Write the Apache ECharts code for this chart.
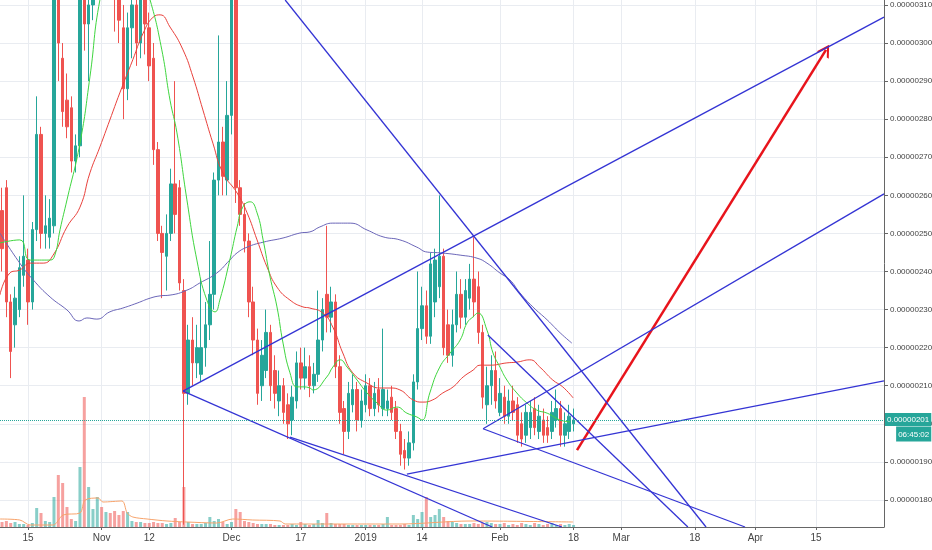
<!DOCTYPE html>
<html><head><meta charset="utf-8">
<script src="https://cdn.jsdelivr.net/npm/echarts@6/dist/echarts.min.js"></script>
<style>html,body{margin:0;padding:0;background:#fff}#c{width:932px;height:550px}</style>
</head><body><div id="c"></div>
<script>
// x = days since 2018-10-01 ; prices in units of 1e-8
const X_TICK_DAYS = [14, 31, 42, 61, 77, 92, 105, 123, 140, 151, 168, 182, 196];
const X_TICK_LABELS = ['15', 'Nov', '12', 'Dec', '17', '2019', '14', 'Feb', '18', 'Mar', '18', 'Apr', '15'];
const Y_TICKS = [180, 190, 200, 210, 220, 230, 240, 250, 260, 270, 280, 290, 300, 310];

const FIRST_DAY = 8; // 2018-10-09, daily candles
const opens = [256,262,232,226,230,239,243,232,251,276,250,249,252,312,296,285,283,269,273,315,305,310,320,326,322,328,318,312,304,288,304,310,300,312,304,296,272,250,244,250,263,262,235,208,222,216,213,220,226,234,264,274,264,281,318,262,255,248,232,222,210,214,224,214,206,210,205,201,206,216,212,215,210,213,222,234,228,232,215,204,198,205,209,201,205,210,204,209,204,204,207,204,198,193,191,195,211,225,231,223,232,236,244,226,218,226,234,228,233,238,236,224,205,210,214,203,207,202,206,205,200,197,199,204,198,201,199,198,201,204,197,198,200];
const closes = [246,232,219,233,241,244,232,251,276,250,252,254,312,300,282,278,269,273,315,305,310,320,326,322,328,318,312,306,288,304,310,300,312,305,294,272,250,245,250,263,255,237,208,222,216,220,220,226,234,264,274,265,281,318,262,255,248,232,222,208,218,224,210,208,210,203,200,207,216,212,215,210,213,222,230,228,232,215,203,198,208,209,201,206,210,204,208,205,209,206,203,198,192,191,195,211,225,231,223,242,243,244,220,218,226,234,228,235,238,232,224,207,210,214,206,208,202,206,203,197,196,203,203,199,202,197,197,203,204,197,200,202,201];
const lows = [240,228,212,220,228,236,226,230,248,246,246,246,250,290,278,275,266,266,270,298,290,306,316,316,318,312,303,300,280,285,296,294,296,297,290,268,248,233,235,248,250,235,173.5,205,210,212,211,215,222,230,260,260,260,276,258,252,245,228,218,205,206,212,206,204,202,200,196,197,204,209,209,207,208,211,219,224,224,212,200,192,196,203,198,199,203,202,202,203,202,202,201,196,189,188,189,193,209,222,221,221,228,233,218,216,215,224,225,226,230,228,221,204,200,205,204,202,200,200,201,195,194,195,196,197,196,195,195,196,199,194,194,196,198];
const highs = [262,264,234,236,244,260,246,253,286,278,260,259,318,325,300,292,286,276,322,322,318,330,334,332,336,332,324,318,310,308,316,314,318,318,308,300,274,252,255,267,290,264,238,226,228,226,238,232,248,266,302,278,290,330,325,264,258,250,236,225,222,230,226,218,214,212,208,210,219,220,220,218,216,235,233,252,236,234,218,206,211,213,211,209,213,212,211,212,225,209,210,206,200,196,198,213,240,236,235,245,246,260,246,230,230,240,238,238,242,249,240,226,215,218,219,212,210,209,210,207,203,205,206,207,205,204,202,206,209,206,203,205,204];
const volumes = [2.5,3,2,2.5,1.5,1.5,1,2,9.5,7,3,2.5,15,26,22,10,4,3,30,65,20,9,15,10,7.5,7,8,6,8,7.5,3,2.5,2.5,2,2,2.5,2,2,1.5,2,4.5,2.5,20,2.5,1.5,1.5,1.5,2,5,3,4,2.5,1.5,2.5,9,7.5,3,2.5,2,1.5,1.5,1.5,1.5,1,1,1,1,1.5,1,2.5,1.5,1,1.5,3.5,2,7,2,1.5,1.5,1.5,1,1,1,1,1,1,1,1,1.5,5,1,1,1,1.5,1,6,4,7.5,15,5,6,9,5,3,2.5,2,1.5,1.5,1.5,2,1.5,2,2.5,2,1.5,1.5,2,1,1.5,1,2,1.5,1,2,1.5,1,1.5,2,1,1.5,1,1.5,1];

const maFast = [[7.5,247.5],[12.1,248.3],[14.5,243.0],[19.1,243.0],[20.2,244.3],[21.4,251],[23.0,258.8],[26.0,273.7],[28.3,291.1],[30.6,311.3],[33,320],[36.5,323],[40,318],[42.2,311.3],[44.9,298.2],[46.8,285.0],[48.4,276.4],[50.7,258.8],[53.0,243.0],[55.3,232.5],[57.2,229.4],[58.3,232.5],[60.6,243.0],[62.3,251.7],[63.6,256.9],[65.3,258.3],[66.9,255.4],[68.3,248.3],[69.9,238.6],[71.5,230.7],[72.9,221.2],[74.5,213.4],[76.1,209.7],[77.5,209.7],[79.1,209.4],[79.8,208.9],[83.0,212.3],[84.4,214.9],[86.1,216.8],[87.7,214.9],[90.0,211.5],[92.3,208.1],[94.6,205.5],[96.9,203.6],[99.2,204.4],[101.5,202.8],[103.8,201.8],[105.0,201.0],[106.8,208.1],[109.1,214.9],[111.5,218.6],[113.8,222.0],[115.4,226.5],[116.8,228.1],[117.9,229.1],[120.0,224.6],[121.4,218.6],[123.0,214.9],[124.6,211.5],[126.9,208.1],[129.2,205.5],[131.5,203.6],[133.9,202.8],[136.9,201.0],[139.2,200.5]];
const maMid = [[7.5,233.8],[9.8,239.6],[12.1,240.4],[14.5,242.2],[17.5,242.2],[19.8,244.3],[23.0,251.7],[26.0,256.9],[28.3,265.9],[30.6,272.7],[32.9,279.8],[35.2,286.9],[38.2,295.6],[40.6,302.6],[42.9,306.8],[44.5,307.4],[46.8,304.2],[49.8,298.2],[52.1,291.1],[54.4,282.4],[56.7,273.7],[59.0,265.9],[62.3,260.6],[64.6,255.4],[66.9,248.3],[69.2,241.2],[71.5,235.9],[74.5,232.5],[77.5,230.7],[79.1,230.4],[82.1,229.1],[84.4,225.4],[86.7,218.6],[89.0,213.4],[92.3,210.7],[95.3,209.4],[97.6,209.4],[99.9,208.9],[102.9,206.3],[105.2,205.7],[107.5,206.3],[109.8,208.1],[112.2,209.7],[114.5,212.3],[116.8,214.1],[118.4,215.4],[120.7,215.4],[124.6,216.0],[126.9,216.2],[129.9,216.8],[132.2,214.9],[135.2,211.5],[137.5,209.7],[139.9,206.8]];
const maSlow = [[7.5,250.1],[12.1,242.2],[15.2,237.8],[19.1,233.3],[23.0,229.9],[25.8,227.0],[27.6,227.8],[29.9,227.5],[32.9,229.4],[35.9,230.4],[39.2,231.7],[42.2,233.0],[44.5,233.6],[46.8,233.8],[50.7,235.1],[53.7,237.0],[57.6,239.6],[60.6,243.0],[62.3,244.9],[64.6,246.4],[68.3,247.7],[72.9,248.8],[76.8,250.1],[79.1,250.4],[81.4,251.7],[84.4,252.7],[88.4,252.7],[92.3,250.9],[96.0,249.1],[99.9,248.3],[103.8,246.4],[106.2,245.1],[109.1,244.9],[113.8,244.3],[117.7,243.5],[120.0,242.2],[123.0,239.6],[125.3,237.8],[127.6,234.4],[130.6,230.7],[133.9,227.3],[136.9,223.9],[139.6,221.2]];
const volMA = [[7.5,4],[12.1,3.5],[14.5,1],[19.8,1],[22.1,6],[26.0,7],[27.2,13.5],[30.2,14.5],[31.3,12.5],[35.7,13],[36.9,7],[38.2,5],[41.5,4],[46.1,3],[50.7,2.5],[57.6,2],[61.3,4],[65.9,3.5],[72.2,3],[73.4,1.5],[84.4,1.5],[99.9,1.5],[116.1,3],[139.9,2.5]];

// trend lines: [day1, price1, day2, price2]
const trendLines = [
  [49.8, 208.6, 211.7, 306.8],
  [49.8, 208.6, 121.2, 172.9],
  [74.5, 196.5, 137.3, 172.9],
  [101.5, 186.8, 211.7, 211.3],
  [119.1, 198.7, 211.7, 260.4],
  [119.1, 198.7, 179.6, 172.9],
  [120.2, 223.3, 166.4, 172.9],
  [73.4, 311.3, 170.6, 172.9]
];
const arrowLine = [140.8, 193.1, 198.3, 298.2];
const lastPrice = 201;
const lastPriceText = '0.00000201';
const countdownText = '06:45:02';

const UP = '#26a69a', DOWN = '#ef5350';
const candles = opens.map((o, i) => [FIRST_DAY + i, o, closes[i], lows[i], highs[i]]);
const volData = volumes.map((v, i) => ({
  value: [FIRST_DAY + i, v],
  itemStyle: { color: closes[i] >= opens[i] ? 'rgba(38,166,154,0.55)' : 'rgba(239,83,80,0.55)' }
}));
const FONT = '"Liberation Sans", Arial, sans-serif';

const series = [
  {
    type: 'bar', xAxisIndex: 0, yAxisIndex: 1, data: volData, barWidth: 3, z: 1
  },
  {
    type: 'line', xAxisIndex: 0, yAxisIndex: 1, data: volMA, smooth: 0.3, symbol: 'none',
    lineStyle: { color: '#f7a36b', width: 1 }, z: 2
  },
  {
    type: 'candlestick', data: candles, encode: { x: 0, y: [1, 2, 3, 4] }, barWidth: 3, clip: true, z: 3,
    itemStyle: { color: UP, color0: DOWN, borderColor: UP, borderColor0: DOWN, borderWidth: 1 },
    markLine: {
      silent: true, symbol: ['none', 'none'], z: 10,
      lineStyle: { type: 'dotted', color: '#26a69a', width: 1 },
      label: {
        position: 'end', distance: 1, offset: [0, 7],
        formatter: '{a|' + lastPriceText + '}\n{b|' + countdownText + '}',
        rich: {
          a: { backgroundColor: '#26a69a', color: '#fff', fontSize: 8, fontFamily: FONT, padding: [3, 2, 2, 2], lineHeight: 14 },
          b: { backgroundColor: '#26a69a', color: '#fff', fontSize: 8, fontFamily: FONT, padding: [4, 2, 3, 2], lineHeight: 15, align: 'right' }
        }
      },
      data: [{ yAxis: lastPrice }]
    }
  },
  { type: 'line', data: maSlow, smooth: true, symbol: 'none', lineStyle: { color: '#6b66b8', width: 1 }, z: 4 },
  { type: 'line', data: maMid, smooth: true, symbol: 'none', lineStyle: { color: '#e8413c', width: 1 }, z: 4 },
  { type: 'line', data: maFast, smooth: true, symbol: 'none', lineStyle: { color: '#3fd53f', width: 1 }, z: 4 }
];
trendLines.forEach((t, i) => {
  const s = {
    type: 'line', data: [[t[0], t[1]], [t[2], t[3]]], symbol: 'none', clip: true,
    lineStyle: { color: '#3434d4', width: 1.3 }, z: 5
  };
  if (i === 0) {
    s.markLine = {
      silent: true, symbol: ['none', 'path://M0,12 L6,0 L12,12 L10,12 L6,4 L2,12 Z'], symbolSize: [14, 12],
      lineStyle: { color: '#e8141c', width: 2.5, type: 'solid' }, label: { show: false },
      data: [[{ coord: [arrowLine[0], arrowLine[1]] }, { coord: [arrowLine[2], arrowLine[3]] }]]
    };
  }
  series.push(s);
});

const chart = echarts.init(document.getElementById('c'), null, { renderer: 'canvas' });
chart.setOption({
  animation: false,
  backgroundColor: '#ffffff',
  grid: { left: 0, right: 48, top: 0, bottom: 23, containLabel: false, outerBoundsMode: 'none' },
  xAxis: {
    type: 'value', min: 7.53, max: 211.7,
    axisLine: { show: true, lineStyle: { color: '#666', width: 1 } },
    axisTick: { show: true, customValues: X_TICK_DAYS, length: 3, lineStyle: { color: '#666' } },
    axisLabel: {
      customValues: X_TICK_DAYS, color: '#444', fontSize: 10, fontFamily: FONT, margin: 6,
      formatter: v => { const i = X_TICK_DAYS.indexOf(Math.round(v)); return i >= 0 ? X_TICK_LABELS[i] : ''; }
    },
    splitLine: { show: true, lineStyle: { color: '#e9ecf1', width: 1 } }
  },
  yAxis: [
    {
      type: 'value', position: 'right', min: 172.9, max: 311.3,
      axisLine: { show: true, lineStyle: { color: '#666', width: 1 } },
      axisTick: { show: true, customValues: Y_TICKS, length: 4, lineStyle: { color: '#666' } },
      axisLabel: {
        customValues: Y_TICKS, color: '#444', fontSize: 8, fontFamily: FONT, margin: 6,
        formatter: v => (v / 1e8).toFixed(8)
      },
      splitLine: { show: true, lineStyle: { color: '#e9ecf1', width: 1 } }
    },
    { type: 'value', min: 0, max: 263.5, show: false, splitLine: { show: false } }
  ],
  series: series
});
</script>
</body></html>
